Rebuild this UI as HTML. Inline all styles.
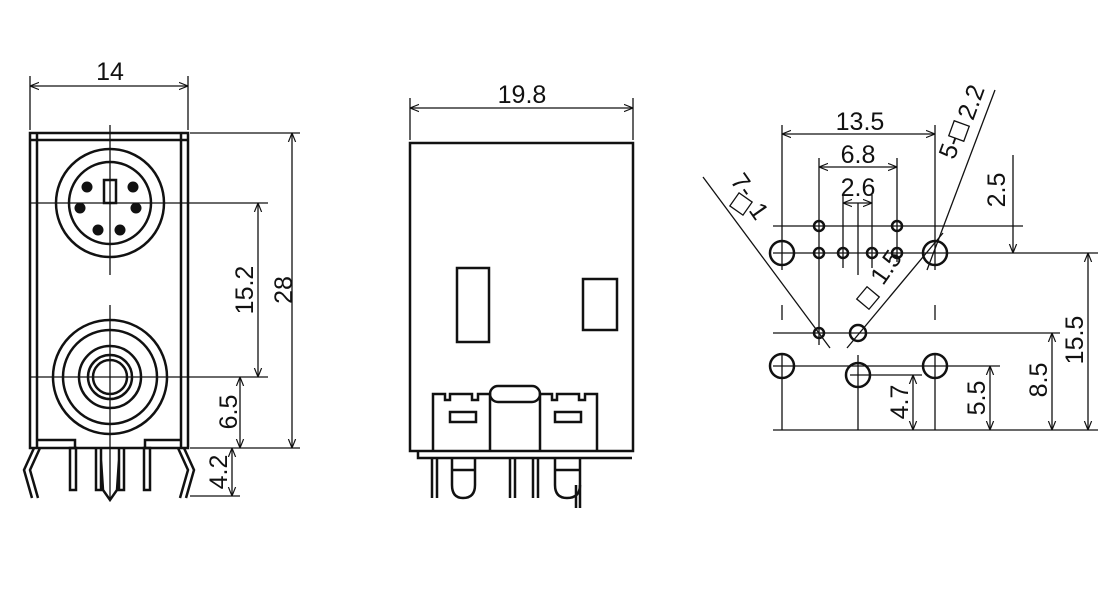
<!DOCTYPE html>
<html><head><meta charset="utf-8"><style>
html,body{margin:0;padding:0;background:#fff;}
svg{display:block;}
text{font-family:"Liberation Sans",sans-serif;font-size:25px;fill:#111;}
</style></head><body>
<svg width="1120" height="608" viewBox="0 0 1120 608" xmlns="http://www.w3.org/2000/svg">
<defs>
<marker id="a" viewBox="0 0 10 10" refX="10" refY="5" markerWidth="9" markerHeight="9" orient="auto-start-reverse" markerUnits="userSpaceOnUse"><path d="M0,1 L10,5 L0,9" fill="none" stroke="#111" stroke-width="1.3"/></marker>
</defs>
<g fill="none" stroke="#111" stroke-width="1.3">
<line x1="30" y1="76" x2="30" y2="130"/><line x1="188" y1="76" x2="188" y2="130"/>
<line x1="30" y1="86" x2="188" y2="86" marker-start="url(#a)" marker-end="url(#a)"/>
<line x1="190" y1="133" x2="300" y2="133"/><line x1="190" y1="448" x2="300" y2="448"/>
<line x1="292" y1="133" x2="292" y2="448" marker-start="url(#a)" marker-end="url(#a)"/>
<line x1="30" y1="203" x2="268" y2="203"/><line x1="30" y1="377" x2="268" y2="377"/>
<line x1="258" y1="203" x2="258" y2="377" marker-start="url(#a)" marker-end="url(#a)"/>
<line x1="240" y1="377" x2="240" y2="448" marker-start="url(#a)" marker-end="url(#a)"/>
<line x1="190" y1="496" x2="240" y2="496"/>
<line x1="232" y1="448" x2="232" y2="496" marker-start="url(#a)" marker-end="url(#a)"/>
<line x1="110" y1="125" x2="110" y2="275"/><line x1="110" y1="305" x2="110" y2="500"/>
</g>
<g fill="none" stroke="#111" stroke-width="2.5">
<rect x="30" y="133" width="158" height="315"/>
<line x1="37" y1="133" x2="37" y2="448"/><line x1="181" y1="133" x2="181" y2="448"/>
<line x1="30" y1="140" x2="188" y2="140"/>
<circle cx="110" cy="203" r="54"/><circle cx="110" cy="203" r="41"/>
<rect x="104" y="180" width="12" height="23"/>
<circle cx="110" cy="377" r="57"/><circle cx="110" cy="377" r="47"/><circle cx="110" cy="377" r="31"/><circle cx="110" cy="377" r="22"/><circle cx="110" cy="377" r="17"/>
<path d="M37 440 H75 V448 M181 440 H145 V448"/>
<path d="M34 448 L24 470 L32 498 M40 448 L30 470 L38 498"/>
<path d="M184 448 L194 470 L186 498 M178 448 L188 470 L180 498"/>
<rect x="70" y="448" width="6" height="42"/><rect x="144" y="448" width="6" height="42"/>
<path d="M96 448 V490 H101 V448 M119 448 V490 H124 V448 M101 460 L103 490 L110 500 L117 490 L119 460"/>
</g>
<g fill="#111">
<circle cx="87" cy="187" r="5.5"/><circle cx="133" cy="187" r="5.5"/><circle cx="80" cy="208" r="5.5"/><circle cx="136" cy="208" r="5.5"/><circle cx="98" cy="230" r="5.5"/><circle cx="120" cy="230" r="5.5"/>
</g>
<text x="110" y="80" text-anchor="middle">14</text>
<text transform="translate(292,290) rotate(-90)" text-anchor="middle">28</text>
<text transform="translate(253,290) rotate(-90)" text-anchor="middle">15.2</text>
<text transform="translate(237,412) rotate(-90)" text-anchor="middle">6.5</text>
<text transform="translate(227,472) rotate(-90)" text-anchor="middle">4.2</text>

<g fill="none" stroke="#111" stroke-width="1.3">
<line x1="410" y1="98" x2="410" y2="140"/><line x1="633" y1="98" x2="633" y2="140"/>
<line x1="410" y1="108" x2="633" y2="108" marker-start="url(#a)" marker-end="url(#a)"/>
</g>
<text x="522" y="103" text-anchor="middle">19.8</text>
<g fill="none" stroke="#111" stroke-width="2.5">
<rect x="410" y="143" width="223" height="308"/>
<rect x="457" y="268" width="32" height="74"/><rect x="583" y="279" width="34" height="51"/>
<path d="M418 451 V458 H632"/>
<path d="M433 451 V394 H445 V400 H450 V394 H472 V400 H478 V394 H490 V451"/>
<path d="M540 451 V394 H552 V400 H557 V394 H579 V400 H585 V394 H597 V451"/>
<rect x="490" y="386" width="50" height="16" rx="8"/>
<rect x="450" y="412" width="26" height="10"/><rect x="555" y="412" width="26" height="10"/>
<path d="M432 458 V498 M437 458 V498"/>
<path d="M452 458 V485 Q452 498 463 498 Q475 498 475 485 V458 M452 470 H475"/>
<path d="M510 458 V498 M515 458 V498 M533 458 V498 M538 458 V498"/>
<path d="M555 458 V485 Q555 498 567 498 Q580 498 580 485 V458 M555 470 H580"/>
<path d="M576 485 V508 M580 485 V508"/>
</g>

<g fill="none" stroke="#111" stroke-width="1.3">
<line x1="782" y1="125" x2="782" y2="270"/><line x1="935" y1="125" x2="935" y2="270"/>
<line x1="782" y1="134" x2="935" y2="134" marker-start="url(#a)" marker-end="url(#a)"/>
<line x1="819" y1="158" x2="819" y2="345"/><line x1="897" y1="158" x2="897" y2="262"/>
<line x1="819" y1="167" x2="897" y2="167" marker-start="url(#a)" marker-end="url(#a)"/>
<line x1="843" y1="195" x2="843" y2="268"/><line x1="872" y1="195" x2="872" y2="268"/>
<line x1="843" y1="203" x2="872" y2="203" marker-start="url(#a)" marker-end="url(#a)"/>
<line x1="858" y1="203" x2="858" y2="275"/>
<line x1="773" y1="226" x2="1023" y2="226"/>
<line x1="773" y1="253" x2="1098" y2="253"/>
<line x1="1013" y1="155" x2="1013" y2="253" marker-end="url(#a)"/>
<line x1="773" y1="333" x2="1060" y2="333"/>
<line x1="773" y1="366" x2="1000" y2="366"/>
<line x1="850" y1="375" x2="922" y2="375"/>
<line x1="773" y1="430" x2="1098" y2="430"/>
<line x1="782" y1="305" x2="782" y2="320"/><line x1="935" y1="305" x2="935" y2="320"/>
<line x1="782" y1="355" x2="782" y2="430"/><line x1="935" y1="355" x2="935" y2="430"/>
<line x1="858" y1="355" x2="858" y2="430"/>
<line x1="1088" y1="253" x2="1088" y2="430" marker-start="url(#a)" marker-end="url(#a)"/>
<line x1="1052" y1="333" x2="1052" y2="430" marker-start="url(#a)" marker-end="url(#a)"/>
<line x1="990" y1="366" x2="990" y2="430" marker-start="url(#a)" marker-end="url(#a)"/>
<line x1="913" y1="375" x2="913" y2="430" marker-start="url(#a)" marker-end="url(#a)"/>
<line x1="703" y1="177" x2="830" y2="348"/>
<line x1="995" y1="90" x2="927" y2="270"/>
<line x1="943" y1="233" x2="847" y2="348"/>
</g>
<g fill="none" stroke="#111" stroke-width="2.5">
<circle cx="782" cy="253" r="12"/><circle cx="935" cy="253" r="12"/>
<circle cx="819" cy="226" r="5"/><circle cx="897" cy="226" r="5"/>
<circle cx="819" cy="253" r="5"/><circle cx="843" cy="253" r="5"/><circle cx="872" cy="253" r="5"/><circle cx="897" cy="253" r="5"/>
<circle cx="819" cy="333" r="5"/><circle cx="858" cy="333" r="8"/>
<circle cx="782" cy="366" r="12"/><circle cx="935" cy="366" r="12"/><circle cx="858" cy="375" r="12"/>
</g>
<g fill="none" stroke="#111" stroke-width="1.3">
<rect x="733" y="196" width="16" height="16" transform="rotate(35 741 204)"/>
<rect x="951" y="123" width="16" height="16" transform="rotate(20 959 131)"/>
<rect x="860" y="290" width="16" height="16" transform="rotate(40 868 298)"/>
</g>
<text x="860" y="130" text-anchor="middle">13.5</text>
<text x="858" y="163" text-anchor="middle">6.8</text>
<text x="858" y="196" text-anchor="middle">2.6</text>
<text transform="translate(736,190) rotate(55)" text-anchor="middle">7-</text>
<text transform="translate(752,216) rotate(55)" text-anchor="middle">1</text>
<text transform="translate(958,150) rotate(-70)" text-anchor="middle">5-</text>
<text transform="translate(979,105) rotate(-70)" text-anchor="middle">2.2</text>
<text transform="translate(893,272) rotate(-55)" text-anchor="middle">1.5</text>
<text transform="translate(1005,190) rotate(-90)" text-anchor="middle">2.5</text>
<text transform="translate(1083,340) rotate(-90)" text-anchor="middle">15.5</text>
<text transform="translate(1047,380) rotate(-90)" text-anchor="middle">8.5</text>
<text transform="translate(985,398) rotate(-90)" text-anchor="middle">5.5</text>
<text transform="translate(908,402) rotate(-90)" text-anchor="middle">4.7</text>
</svg>
</body></html>
